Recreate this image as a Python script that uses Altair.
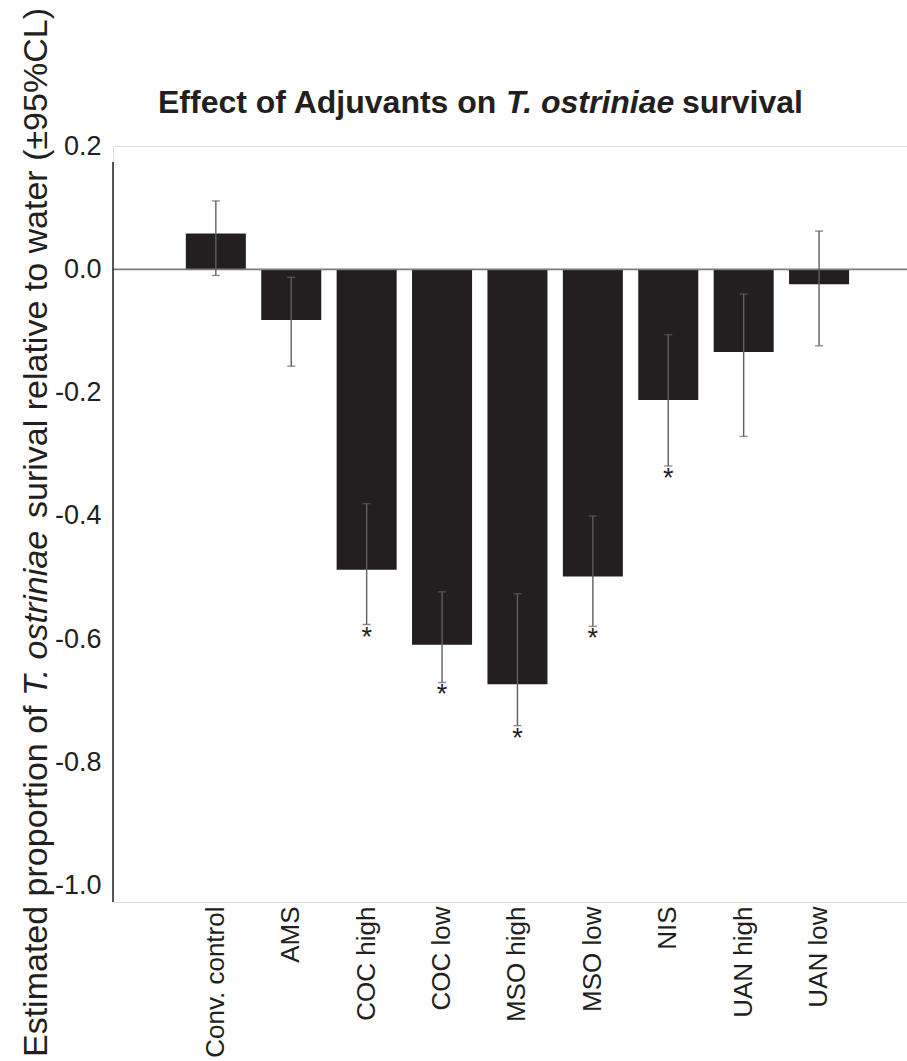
import altair as alt
import pandas as pd

categories = ["Conv. control", "AMS", "COC high", "COC low", "MSO high",
              "MSO low", "NIS", "UAN high", "UAN low"]
estimates = [0.058, -0.082, -0.487, -0.609, -0.673, -0.498, -0.212, -0.134, -0.024]
lower_cl = [-0.010, -0.157, -0.576, -0.670, -0.740, -0.579, -0.319, -0.271, -0.124]
upper_cl = [0.111, -0.013, -0.380, -0.523, -0.526, -0.400, -0.106, -0.040, 0.062]
significance = ["", "", "*", "*", "*", "*", "*", "", ""]
y_ticks = [0.2, 0.0, -0.2, -0.4, -0.6, -0.8, -1.0]
axis_extent = [0.174, -1.026]
y_domain = [-1.026, 0.2]

title_parts = ["Effect of Adjuvants on", "T. ostriniae", "survival"]
ytitle_parts = ["Estimated proportion of", "T. ostriniae", "surival relative to water (±95%CL)"]

df = pd.DataFrame({
    "cat": categories,
    "est": estimates,
    "lower": lower_cl,
    "upper": upper_cl,
    "sig": significance,
})

BAR = "#231f20"
ERR = "#5f5f5f"
TEXT_FONT = "Liberation Sans"
TITLE_FONT = "Liberation Sans"

x_enc = alt.X(
    "cat:N", sort=categories,
    scale=alt.Scale(paddingInner=0.204, paddingOuter=0.867, align=0.557),
    axis=alt.Axis(title=None, labelAngle=-90, labelAlign="right", labelBaseline="middle",
                  labelFontSize=26, labelFont=TEXT_FONT, labelColor=BAR,
                  domain=False, ticks=False, tickSize=0, labelPadding=4, grid=False),
)
y_scale = alt.Scale(domain=y_domain, nice=False, zero=False)
y_axis = alt.Axis(title=None, values=y_ticks, domain=False, ticks=False, tickSize=0, grid=False,
                  labelFontSize=27, labelFont=TEXT_FONT, labelColor=BAR, labelPadding=12,
                  labelExpr="replace(format(datum.value, '.1f'), '−', '-')")

base = alt.Chart(df)

bars = base.mark_bar(color=BAR).encode(
    x=x_enc,
    y=alt.Y("est:Q", scale=y_scale, axis=y_axis),
    y2=alt.datum(0),
)

err = base.mark_rule(color=ERR, strokeWidth=1.4).encode(
    x=alt.X("cat:N", sort=categories), y="lower:Q", y2="upper:Q")
cap_lo = base.mark_tick(color=ERR, thickness=1.4, size=8).encode(
    x=alt.X("cat:N", sort=categories), y="lower:Q")
cap_hi = base.mark_tick(color=ERR, thickness=1.4, size=8).encode(
    x=alt.X("cat:N", sort=categories), y="upper:Q")
stars = base.mark_text(fontSize=27, font=TEXT_FONT, color=BAR, baseline="top", dy=0).encode(
    x=alt.X("cat:N", sort=categories), y="lower:Q", text="sig:N")

zero_line = alt.Chart(pd.DataFrame({"z": [0.0]})).mark_rule(
    color="#7a7a7a", strokeWidth=1.8).encode(y="z:Q")

axis_line = alt.Chart(pd.DataFrame({"top": [axis_extent[0]], "bottom": [axis_extent[1]]})).mark_rule(
    color=BAR, strokeWidth=1.5).encode(x=alt.value(0), y="top:Q", y2="bottom:Q")


def text_piece(txt, **kw):
    return alt.Chart(pd.DataFrame({"t": [txt]})).mark_text(**kw).encode(text="t:N")


t1 = text_piece(title_parts[0], font=TITLE_FONT, fontSize=32, fontWeight="bold", color=BAR,
                align="left", baseline="alphabetic", x=45, y=-33)
t2 = text_piece(title_parts[1], font=TITLE_FONT, fontSize=32, fontWeight="bold", fontStyle="italic",
                color=BAR, align="left", baseline="alphabetic", x=393, y=-33)
t3 = text_piece(title_parts[2], font=TITLE_FONT, fontSize=32, fontWeight="bold", color=BAR,
                align="left", baseline="alphabetic", x=569, y=-33)

ya = text_piece(ytitle_parts[0], font=TEXT_FONT, fontSize=34, color=BAR, angle=270,
                align="left", baseline="alphabetic", x=-66, y=911)
yb = text_piece(ytitle_parts[1], font=TEXT_FONT, fontSize=34, fontStyle="italic", color=BAR, angle=270,
                align="left", baseline="alphabetic", x=-66, y=550)
yc = text_piece(ytitle_parts[2], font=TEXT_FONT, fontSize=34, color=BAR, angle=270,
                align="left", baseline="alphabetic", x=-66, y=372)

chart = alt.layer(
    bars, zero_line, err, cap_lo, cap_hi, stars, axis_line, t1, t2, t3, ya, yb, yc
).properties(
    width=794, height=756,
    autosize=alt.AutoSizeParams(type="none"),
    padding={"left": 113, "top": 146, "right": 0, "bottom": 159},
).configure_view(stroke=None).configure(background="white")

chart.save("out.html", embed_options={"renderer": "svg", "actions": False})
